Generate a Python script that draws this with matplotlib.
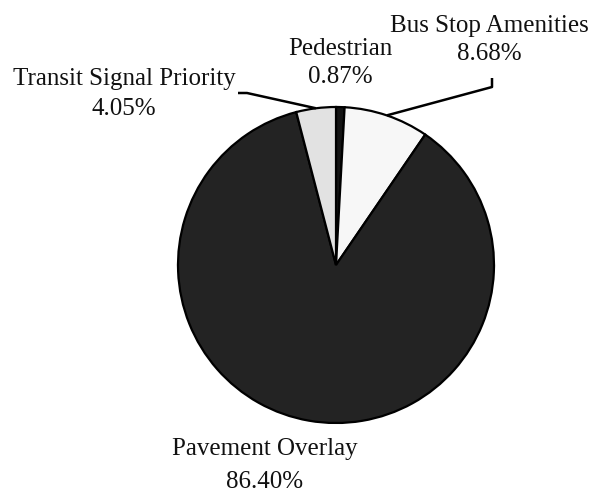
import matplotlib
matplotlib.use("Agg")
import matplotlib.pyplot as plt
import numpy as np

labels = ["Pedestrian", "Bus Stop Amenities", "Pavement Overlay", "Transit Signal Priority"]
values = [0.87, 8.68, 86.40, 4.05]
colors = ["#141414", "#f7f7f7", "#232323", "#e2e2e2"]

W, H = 595, 493
cx, cy = 336, 265  # pie centre in pixels from top-left
R = 158

fig = plt.figure(figsize=(W / 100, H / 100), dpi=100)
ax = fig.add_axes([0, 0, 1, 1])

wedges, _ = ax.pie(values, colors=colors, startangle=90, counterclock=False,
                   radius=R, center=(0, 0), frame=True,
                   wedgeprops=dict(edgecolor="black", linewidth=1.6))
ax.set_xlim(-cx, W - cx)
ax.set_ylim(-(H - cy), cy)
ax.set_aspect("equal")
ax.axis("off")

font = dict(family="Liberation Serif", fontsize=18, color="#111111", ha="center", va="baseline")
# label anchor: (x centre, baseline of first line, baseline of second line), offsets from pie centre
label_pos = {
    "Pedestrian": (4, 210, 182),
    "Bus Stop Amenities": (153, 233, 205),
    "Pavement Overlay": (-71, -190, -223),
    "Transit Signal Priority": (-212, 180, 150),
}
for lab, v in zip(labels, values):
    x, y1, y2 = label_pos[lab]
    ax.text(x, y1, lab, **font)
    ax.text(x, y2, f"{v:.2f}%", **font)

# leader lines
def edge_point(idx):
    start = 90 - sum(values[:idx]) * 3.6
    mid = start - values[idx] * 3.6 / 2
    return R * np.cos(np.radians(mid)), R * np.sin(np.radians(mid))

ex, ey = edge_point(3)
ax.plot([-98, -89, ex], [172, 172, ey], color="black", lw=1.8, solid_capstyle="butt")
ex, ey = edge_point(1)
ax.plot([156, 156, ex], [187, 178, ey], color="black", lw=1.8, solid_capstyle="butt")

fig.savefig("out.png", dpi=100)
